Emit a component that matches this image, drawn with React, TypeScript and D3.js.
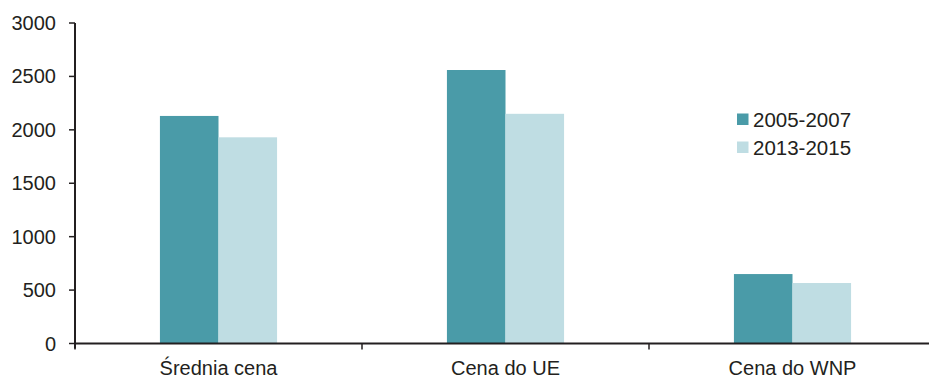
import React from "react";
import * as d3 from "d3";

const categories = ["Średnia cena", "Cena do UE", "Cena do WNP"];
const seriesNames = ["2005-2007", "2013-2015"];
const series2005_2007 = [2130, 2560, 650];
const series2013_2015 = [1930, 2150, 566];
const yTicks = [0, 500, 1000, 1500, 2000, 2500, 3000];
const colors = ["#4a9ba8", "#bfdde3"];

const W = 929;
const H = 379;
const margin = { left: 75, right: -7, top: 23, bottom: 35.5 };
const FONT = "'Liberation Sans', Arial, sans-serif";
const TEXT = "#231f20";

export default function App() {
  const x = d3
    .scaleBand<string>()
    .domain(categories)
    .range([margin.left, W - margin.right])
    .paddingInner(0)
    .paddingOuter(0);
  const inner = d3
    .scaleBand<string>()
    .domain(seriesNames)
    .range([0, x.bandwidth()])
    .paddingOuter(1.45)
    .paddingInner(0);
  const y = d3.scaleLinear().domain([0, 3000]).range([H - margin.bottom, margin.top]);
  const values = [series2005_2007, series2013_2015];
  const y0 = y(0);

  const boundaries = [...categories.map((c) => x(c)!), x(categories[categories.length - 1])! + x.bandwidth()];

  return (
    <svg
      width={W}
      height={H}
      style={{ position: "absolute", left: 0, top: 0, background: "#fff" }}
      fontFamily={FONT}
    >
      {/* bars */}
      {categories.map((c, ci) =>
        seriesNames.map((s, si) => {
          const v = values[si][ci];
          const bx = x(c)! + inner(s)!;
          return (
            <rect
              key={c + s}
              x={bx}
              y={y(v)}
              width={inner.bandwidth()}
              height={y0 - y(v)}
              fill={colors[si]}
            />
          );
        })
      )}
      {/* y axis */}
      <line x1={margin.left} x2={margin.left} y1={y(3000)} y2={y0 + 5} stroke={TEXT} strokeWidth={2} />
      {yTicks.map((t) => (
        <g key={t}>
          <line x1={margin.left - 6} x2={margin.left} y1={y(t)} y2={y(t)} stroke={TEXT} strokeWidth={1.5} />
          <text
            x={56}
            y={y(t)}
            textAnchor="end"
            dominantBaseline="central"
            fontSize={20}
            fill={TEXT}
          >
            {t}
          </text>
        </g>
      ))}
      {/* x axis */}
      <line x1={margin.left} x2={W} y1={y0} y2={y0} stroke={TEXT} strokeWidth={2} />
      {boundaries.map((b, i) => (
        <line key={i} x1={b} x2={b} y1={y0} y2={y0 + 6} stroke={TEXT} strokeWidth={1.5} />
      ))}
      {categories.map((c) => (
        <text
          key={c}
          x={x(c)! + x.bandwidth() / 2}
          y={375}
          textAnchor="middle"
          fontSize={20}
          fill={TEXT}
        >
          {c}
        </text>
      ))}
      {/* legend */}
      {seriesNames.map((s, i) => (
        <g key={s} transform={`translate(737, ${113.5 + i * 28})`}>
          <rect x={0} y={0} width={11.5} height={11.5} fill={colors[i]} />
          <text x={16} y={6} dominantBaseline="central" fontSize={20.5} fill={TEXT}>
            {s}
          </text>
        </g>
      ))}
    </svg>
  );
}
